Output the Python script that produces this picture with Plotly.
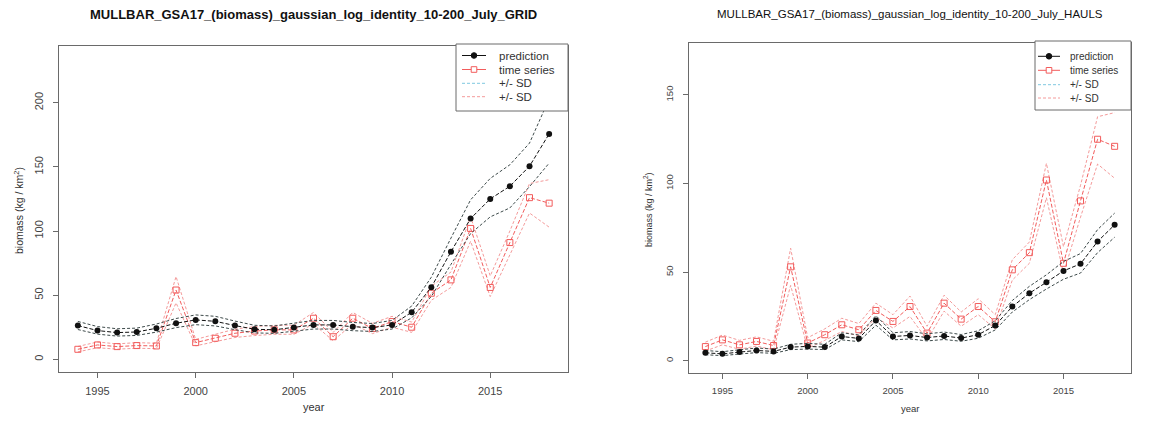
import plotly.graph_objects as go

W, H = 1163, 421

years = list(range(1994, 2019))

# GRID model
grid_pred = [26.3, 22.4, 20.8, 21.3, 24.2, 28.1, 30.7, 29.6, 26.3, 23.4, 23.0, 24.7, 26.8,
             26.8, 25.4, 24.7, 26.8, 36.7, 56.2, 83.9, 109.7, 125.0, 134.9, 150.5, 175.7]
grid_pred_hi = [29.5, 25.5, 23.8, 24.3, 27.5, 31.8, 34.6, 33.5, 29.8, 26.5, 26.0, 27.9, 30.3,
                30.3, 28.7, 27.9, 30.3, 41.5, 64.0, 94.5, 124.3, 141.0, 151.6, 168.5, 203.0]
grid_pred_lo = [23.2, 19.6, 18.1, 18.6, 21.2, 24.7, 27.0, 26.0, 23.1, 20.6, 20.2, 21.7, 23.6,
                23.6, 22.3, 21.7, 23.6, 32.3, 49.0, 74.0, 98.0, 111.0, 118.0, 134.6, 152.9]
grid_obs = [7.8, 11.2, 9.9, 10.7, 10.4, 54.0, 13.0, 16.4, 20.3, 22.0, 23.0, 22.9, 32.0,
            17.6, 32.0, 24.0, 29.4, 25.0, 51.5, 61.9, 102.0, 56.0, 91.0, 126.0, 121.7]
grid_obs_hi = [10.0, 13.5, 12.0, 13.0, 12.5, 64.5, 15.5, 19.5, 23.5, 25.5, 26.5, 26.5, 36.5,
               21.0, 36.5, 28.0, 33.5, 29.0, 57.0, 68.0, 111.0, 65.0, 100.0, 137.0, 140.0]
grid_obs_lo = [5.8, 9.0, 7.9, 8.6, 8.3, 44.0, 10.5, 13.5, 17.0, 18.5, 19.5, 19.5, 27.5,
               14.5, 27.5, 20.0, 25.0, 21.0, 46.0, 56.0, 92.0, 48.9, 82.0, 114.0, 103.0]

# HAULS model
hauls_pred = [4.5, 3.9, 4.9, 5.8, 5.3, 7.7, 8.1, 7.7, 13.7, 12.6, 22.7, 13.7, 14.3,
              13.1, 14.0, 12.8, 14.7, 19.9, 30.6, 38.1, 44.3, 50.7, 54.7, 67.3, 76.7]
hauls_pred_hi = [5.8, 5.1, 6.2, 7.2, 6.6, 9.3, 9.8, 9.3, 15.8, 14.6, 25.5, 15.8, 16.5,
                 15.2, 16.2, 14.8, 16.9, 22.6, 34.0, 42.0, 48.5, 56.0, 60.5, 74.0, 83.3]
hauls_pred_lo = [3.4, 2.9, 3.8, 4.6, 4.2, 6.3, 6.6, 6.3, 11.8, 10.8, 20.1, 11.8, 12.3,
                 11.2, 12.0, 11.0, 12.7, 17.4, 27.5, 34.5, 40.5, 46.0, 49.5, 61.0, 69.7]
hauls_obs = [8.0, 11.8, 9.0, 10.9, 8.6, 53.0, 10.0, 14.7, 20.3, 17.5, 28.4, 22.2, 30.6,
             15.6, 32.5, 23.5, 30.6, 22.0, 51.3, 61.0, 102.0, 55.0, 90.2, 125.0, 121.0]
hauls_obs_hi = [10.5, 14.5, 11.5, 13.5, 11.0, 63.5, 13.0, 18.0, 24.0, 21.0, 32.5, 26.0, 36.5,
                19.5, 37.0, 27.5, 35.0, 26.0, 57.0, 67.0, 111.4, 64.4, 99.0, 137.7, 140.0]
hauls_obs_lo = [5.5, 9.0, 6.5, 8.3, 6.2, 42.5, 7.0, 11.5, 16.5, 14.0, 24.5, 18.5, 25.0,
                11.8, 28.0, 19.5, 26.0, 18.0, 45.5, 55.0, 92.0, 49.4, 81.0, 111.0, 103.0]

x_ticks = [1995, 2000, 2005, 2010, 2015]
grid_y_ticks = [0, 50, 100, 150, 200]
hauls_y_ticks = [0, 50, 100, 150]

titles = ["MULLBAR_GSA17_(biomass)_gaussian_log_identity_10-200_July_GRID",
          "MULLBAR_GSA17_(biomass)_gaussian_log_identity_10-200_July_HAULS"]
legend_labels = ["prediction", "time series", "+/- SD", "+/- SD"]

PRED = "#111111"
PRED_SD = "#3d4a4a"
OBS = "#f25c5c"
OBS_SD = "#f49a9a"
AXIS = "#6a6a6a"
FONT = "Liberation Sans, Arial, sans-serif"


def px_x(p):
    return p / W


def px_y(p):
    return (H - p) / H


fig = go.Figure()


def add_panel(xa, ya, pred, pred_hi, pred_lo, obs, obs_hi, obs_lo, msize):
    common = dict(x=years, xaxis=xa, yaxis=ya, showlegend=False, hoverinfo="skip")
    for arr in (obs_hi, obs_lo):
        fig.add_trace(go.Scatter(y=arr, mode="lines",
                                 line=dict(color=OBS_SD, width=1, dash="3px,2px"), **common))
    fig.add_trace(go.Scatter(y=obs, mode="lines+markers",
                             line=dict(color=OBS, width=1, dash="4px,2px"),
                             marker=dict(symbol="square-open", size=msize, color=OBS,
                                         line=dict(width=1)), **common))
    for arr in (pred_hi, pred_lo):
        fig.add_trace(go.Scatter(y=arr, mode="lines",
                                 line=dict(color=PRED_SD, width=1, dash="3px,2px"), **common))
    fig.add_trace(go.Scatter(y=pred, mode="lines+markers",
                             line=dict(color=PRED, width=1, dash="4px,2px"),
                             marker=dict(symbol="circle", size=msize, color=PRED), **common))


add_panel("x", "y", grid_pred, grid_pred_hi, grid_pred_lo,
          grid_obs, grid_obs_hi, grid_obs_lo, 6)
add_panel("x2", "y2", hauls_pred, hauls_pred_hi, hauls_pred_lo,
          hauls_obs, hauls_obs_hi, hauls_obs_lo, 6)

# panel frames in pixels: left, right, top, bottom
panels = [
    dict(l=59, r=568, t=46, b=372, yr=[-9.9, 244.2], yt=grid_y_ticks, fs=11, tfs=13,
         tbold=True, lfs=11.5),
    dict(l=689, r=1131, t=43, b=373, yr=[-6.9, 179.3], yt=hauls_y_ticks, fs=9.5, tfs=11.5,
         tbold=False, lfs=10),
]

axis_common = dict(showgrid=False, zeroline=False, showline=True, mirror=True,
                   linecolor=AXIS, linewidth=1, ticks="outside", ticklen=5,
                   tickcolor=AXIS, tickwidth=1)

layout = dict(width=W, height=H, margin=dict(l=0, r=0, t=0, b=0),
              paper_bgcolor="white", plot_bgcolor="white",
              font=dict(family=FONT, color="#333333"))
shapes, annotations = [], []

for i, p in enumerate(panels):
    sfx = "" if i == 0 else "2"
    layout["xaxis" + sfx] = dict(
        domain=[px_x(p["l"]), px_x(p["r"])], range=[1993.04, 2018.96],
        anchor="y" + sfx, tickvals=x_ticks, tickfont=dict(size=p["fs"], color="#444444"),
        ticklabelstandoff=4, **axis_common)
    layout["yaxis" + sfx] = dict(
        domain=[px_y(p["b"]), px_y(p["t"])], range=p["yr"],
        anchor="x" + sfx, tickvals=p["yt"], tickangle=-90,
        tickfont=dict(size=p["fs"], color="#444444"), ticklabelstandoff=6, **axis_common)

    cx = (p["l"] + p["r"]) / 2
    tt = f"<b>{titles[i]}</b>" if p["tbold"] else titles[i]
    annotations.append(dict(text=tt, x=px_x(cx), y=px_y(14), xref="paper", yref="paper",
                            showarrow=False, xanchor="center", yanchor="middle",
                            font=dict(size=p["tfs"], color="#111111")))
    annotations.append(dict(text="year", x=px_x(cx), y=px_y(p["b"] + 35), xref="paper",
                            yref="paper", showarrow=False, xanchor="center",
                            yanchor="middle", font=dict(size=p["fs"], color="#333333")))
    annotations.append(dict(text="biomass (kg / km<sup>2</sup>)", x=px_x(p["l"] - 41),
                            y=px_y((p["t"] + p["b"]) / 2 + 2), xref="paper", yref="paper",
                            showarrow=False, textangle=-90, xanchor="center",
                            yanchor="middle", font=dict(size=p["fs"] - 0.5, color="#333333")))

# legend boxes (top-right inside each panel)
legends = [
    dict(l=456, r=568, t=44, b=111, rows=[55.5, 69.5, 83.3, 96.7], s0=462, s1=486,
         tx=497, fs=11.5),
    dict(l=1035, r=1131, t=41, b=110, rows=[56.3, 70.3, 84.7, 98.0], s0=1038, s1=1060,
         tx=1068, fs=10),
]
styles = [
    dict(color=PRED, dash="solid", marker="circle"),
    dict(color=OBS, dash="solid", marker="square"),
    dict(color="#7fc8e0", dash="3px,2px", marker=None),
    dict(color=OBS_SD, dash="3px,2px", marker=None),
]
for lg in legends:
    shapes.append(dict(type="rect", xref="paper", yref="paper", layer="above",
                       x0=px_x(lg["l"]), x1=px_x(lg["r"]), y0=px_y(lg["b"]), y1=px_y(lg["t"]),
                       fillcolor="white", line=dict(color=AXIS, width=1)))
    for row, st, lab in zip(lg["rows"], styles, legend_labels):
        shapes.append(dict(type="line", xref="paper", yref="paper", layer="above",
                           x0=px_x(lg["s0"]), x1=px_x(lg["s1"]), y0=px_y(row), y1=px_y(row),
                           line=dict(color=st["color"], width=1, dash=st["dash"])))
        mx = (lg["s0"] + lg["s1"]) / 2
        if st["marker"] == "circle":
            shapes.append(dict(type="circle", xref="paper", yref="paper", layer="above",
                               x0=px_x(mx - 2.8), x1=px_x(mx + 2.8),
                               y0=px_y(row + 2.8), y1=px_y(row - 2.8),
                               fillcolor=st["color"], line=dict(color=st["color"], width=1)))
        elif st["marker"] == "square":
            shapes.append(dict(type="rect", xref="paper", yref="paper", layer="above",
                               x0=px_x(mx - 2.8), x1=px_x(mx + 2.8),
                               y0=px_y(row + 2.8), y1=px_y(row - 2.8),
                               fillcolor="white", line=dict(color=st["color"], width=1)))
        annotations.append(dict(text=lab, x=px_x(lg["tx"]), y=px_y(row), xref="paper",
                                yref="paper", showarrow=False, xanchor="left",
                                yanchor="middle", font=dict(size=lg["fs"], color="#333333")))

layout["shapes"] = shapes
layout["annotations"] = annotations
fig.update_layout(**layout)

fig.write_html("out.html")
